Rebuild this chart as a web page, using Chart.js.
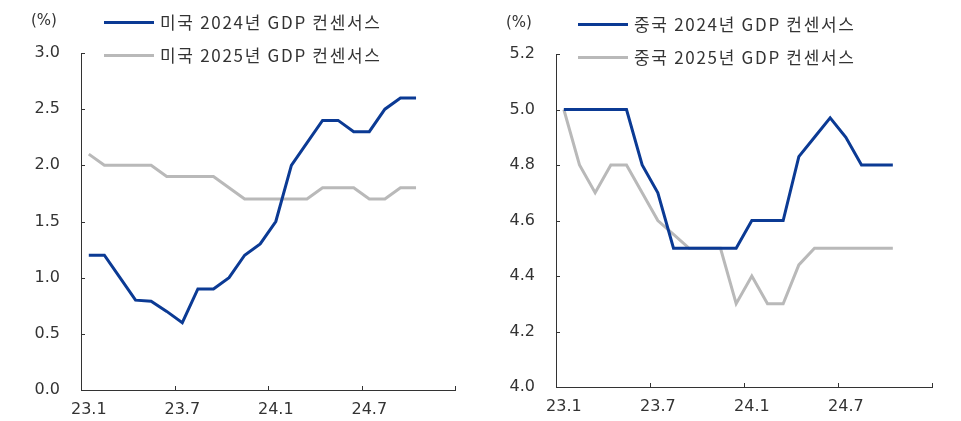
<!DOCTYPE html>
<html>
<head>
<meta charset="utf-8">
<script src="https://cdn.jsdelivr.net/npm/chart.js@4"></script>
<style>
  html, body { margin: 0; padding: 0; background: #fff; }
  #wrap { position: relative; width: 961px; height: 421px; overflow: hidden; }
  .panel { position: absolute; top: 0; height: 421px; }
  .unit, .leg { position: absolute; font-family: "Noto Sans CJK KR", "Noto Sans", sans-serif; color: #333; white-space: nowrap; }
  .unit { font-family: "DejaVu Sans", sans-serif; font-size: 15px; line-height: 20px; }
  .leg { font-size: 17px; line-height: 22px; letter-spacing: 1.7px; }
  .leg i { position: absolute; left: 0; top: 10px; width: 50px; height: 3px; }
  .leg span { position: absolute; left: 56px; top: 0; }
</style>
</head>
<body>
<div id="wrap">
  <div class="panel" style="left:0;width:480px"><canvas id="c1" width="480" height="421"></canvas></div>
  <div class="panel" style="left:480px;width:481px"><canvas id="c2" width="481" height="421"></canvas></div>
  <div class="unit" style="left:31px;top:10px">(%)</div>
  <div class="unit" style="left:506px;top:12px">(%)</div>
  <div class="leg" style="left:104px;top:11px;width:320px"><i style="background:#0b3a94"></i><span>미국 2024년 GDP 컨센서스</span></div>
  <div class="leg" style="left:104px;top:44px;width:320px"><i style="background:#b9b9b9"></i><span>미국 2025년 GDP 컨센서스</span></div>
  <div class="leg" style="left:578px;top:13px;width:320px"><i style="background:#0b3a94"></i><span>중국 2024년 GDP 컨센서스</span></div>
  <div class="leg" style="left:578px;top:46px;width:320px"><i style="background:#b9b9b9"></i><span>중국 2025년 GDP 컨센서스</span></div>
</div>
<script>
const months = ['23.1','23.2','23.3','23.4','23.5','23.6','23.7','23.8','23.9','23.10','23.11','23.12',
                '24.1','24.2','24.3','24.4','24.5','24.6','24.7','24.8','24.9','24.10','24.11','24.12'];
const shownLabels = ['23.1','23.7','24.1','24.7'];

const us2024 = [1.2,1.2,1.0,0.8,0.79,0.7,0.6,0.9,0.9,1.0,1.2,1.3,1.5,2.0,2.2,2.4,2.4,2.3,2.3,2.5,2.6,2.6];
const us2025 = [2.1,2.0,2.0,2.0,2.0,1.9,1.9,1.9,1.9,1.8,1.7,1.7,1.7,1.7,1.7,1.8,1.8,1.8,1.7,1.7,1.8,1.8];
const cn2024 = [5.0,5.0,5.0,5.0,5.0,4.8,4.7,4.5,4.5,4.5,4.5,4.5,4.6,4.6,4.6,4.83,4.9,4.97,4.9,4.8,4.8,4.8];
const cn2025 = [5.0,4.8,4.7,4.8,4.8,4.7,4.6,4.55,4.5,4.5,4.5,4.3,4.4,4.3,4.3,4.44,4.5,4.5,4.5,4.5,4.5,4.5];

const usTicks = [0.0,0.5,1.0,1.5,2.0,2.5,3.0];
const cnTicks = [4.0,4.2,4.4,4.6,4.8,5.0,5.2];

const BLUE = '#0b3a94';
const GRAY = '#b9b9b9';
const AXIS = '#333333';
const TEXT = '#333333';

const innerTicks = {
  id: 'innerTicks',
  afterDraw(chart) {
    const ctx = chart.ctx;
    const x = chart.scales.x, y = chart.scales.y;
    const area = chart.chartArea;
    ctx.save();
    ctx.strokeStyle = AXIS;
    ctx.lineWidth = 1;
    ctx.beginPath();
    for (let i = 0; i <= months.length; i += 6) {
      const px = Math.round(x.getPixelForValue(i - 0.5)) + 0.5;
      ctx.moveTo(px, area.bottom);
      ctx.lineTo(px, area.bottom - 4);
    }
    y.ticks.forEach(t => {
      const py = Math.round(y.getPixelForValue(t.value)) + 0.5;
      ctx.moveTo(area.left, py);
      ctx.lineTo(area.left + 4, py);
    });
    ctx.stroke();
    ctx.restore();
  }
};

function makeChart(id, s1, s2, yTicks, pad, yWidth, xHeight) {
  const step = +(yTicks[1] - yTicks[0]).toFixed(2);
  return new Chart(document.getElementById(id), {
    type: 'line',
    data: {
      labels: months,
      datasets: [
        { data: s1, borderColor: BLUE, borderWidth: 3, pointRadius: 0, tension: 0, fill: false },
        { data: s2, borderColor: GRAY, borderWidth: 3, pointRadius: 0, tension: 0, fill: false }
      ]
    },
    options: {
      responsive: false,
      animation: false,
      devicePixelRatio: 1,
      layout: { padding: pad },
      plugins: { legend: { display: false }, tooltip: { enabled: false } },
      scales: {
        x: {
          type: 'category',
          offset: true,
          border: { display: true, color: AXIS, width: 1 },
          grid: { display: true, offset: true, drawOnChartArea: false, drawTicks: false },
          ticks: {
            autoSkip: false, maxRotation: 0, padding: 10,
            color: TEXT, font: { family: 'DejaVu Sans', size: 16 },
            callback: function (v, i) { const l = this.getLabelForValue(v); return shownLabels.includes(l) ? l : ''; }
          },
          afterFit(s) { s.height = xHeight; }
        },
        y: {
          min: yTicks[0], max: yTicks[yTicks.length - 1],
          border: { display: true, color: AXIS, width: 1 },
          grid: { display: false, drawTicks: false },
          ticks: {
            stepSize: step, padding: 21,
            color: TEXT, font: { family: 'DejaVu Sans', size: 16 },
            callback: v => Number(v).toFixed(1)
          },
          afterBuildTicks(s) { s.ticks = yTicks.map(v => ({ value: v })); },
          afterFit(s) { s.width = yWidth; }
        }
      }
    },
    plugins: [innerTicks]
  });
}

makeChart('c1', us2024, us2025, usTicks, { top: 53, right: 25, left: 0, bottom: 0 }, 81, 31);
makeChart('c2', cn2024, cn2025, cnTicks, { top: 54, right: 29, left: 0, bottom: 0 }, 76, 34);
</script>
</body>
</html>
